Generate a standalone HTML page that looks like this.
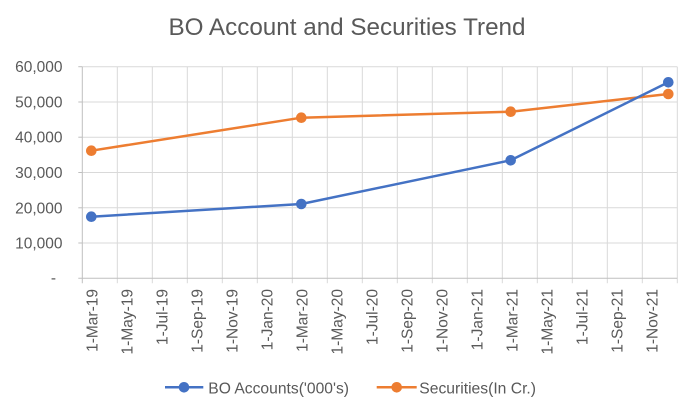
<!DOCTYPE html>
<html>
<head>
<meta charset="utf-8">
<style>
html,body{margin:0;padding:0;background:#fff;}
svg{display:block;}
text{font-family:"Liberation Sans",Arial,sans-serif;fill:#595959;}
</style>
</head>
<body>
<svg width="690" height="400" viewBox="0 0 690 400" xmlns="http://www.w3.org/2000/svg">
<rect x="0" y="0" width="690" height="400" fill="#fff"/>
<text x="347" y="35" font-size="24" text-anchor="middle" textLength="357" lengthAdjust="spacingAndGlyphs">BO Account and Securities Trend</text>

<!-- horizontal gridlines -->
<g stroke="#D9D9D9" stroke-width="1">
<line x1="82.3" y1="66.7" x2="677.3" y2="66.7"/>
<line x1="82.3" y1="102" x2="677.3" y2="102"/>
<line x1="82.3" y1="137.2" x2="677.3" y2="137.2"/>
<line x1="82.3" y1="172.5" x2="677.3" y2="172.5"/>
<line x1="82.3" y1="207.8" x2="677.3" y2="207.8"/>
<line x1="82.3" y1="243" x2="677.3" y2="243"/>
</g>
<!-- vertical gridlines -->
<g stroke="#D9D9D9" stroke-width="1">
<line x1="117.3" y1="66.7" x2="117.3" y2="283.3"/>
<line x1="152.3" y1="66.7" x2="152.3" y2="283.3"/>
<line x1="187.3" y1="66.7" x2="187.3" y2="283.3"/>
<line x1="222.3" y1="66.7" x2="222.3" y2="283.3"/>
<line x1="257.3" y1="66.7" x2="257.3" y2="283.3"/>
<line x1="292.3" y1="66.7" x2="292.3" y2="283.3"/>
<line x1="327.3" y1="66.7" x2="327.3" y2="283.3"/>
<line x1="362.3" y1="66.7" x2="362.3" y2="283.3"/>
<line x1="397.3" y1="66.7" x2="397.3" y2="283.3"/>
<line x1="432.3" y1="66.7" x2="432.3" y2="283.3"/>
<line x1="467.3" y1="66.7" x2="467.3" y2="283.3"/>
<line x1="502.3" y1="66.7" x2="502.3" y2="283.3"/>
<line x1="537.3" y1="66.7" x2="537.3" y2="283.3"/>
<line x1="572.3" y1="66.7" x2="572.3" y2="283.3"/>
<line x1="607.3" y1="66.7" x2="607.3" y2="283.3"/>
<line x1="642.3" y1="66.7" x2="642.3" y2="283.3"/>
<line x1="677.3" y1="66.7" x2="677.3" y2="283.3"/>
</g>
<!-- axes -->
<g stroke="#BFBFBF" stroke-width="1">
<line x1="82.3" y1="66.7" x2="82.3" y2="283.3"/>
<line x1="78.3" y1="278.3" x2="677.3" y2="278.3"/>
<line x1="78.3" y1="66.7" x2="82.3" y2="66.7"/>
<line x1="78.3" y1="102" x2="82.3" y2="102"/>
<line x1="78.3" y1="137.2" x2="82.3" y2="137.2"/>
<line x1="78.3" y1="172.5" x2="82.3" y2="172.5"/>
<line x1="78.3" y1="207.8" x2="82.3" y2="207.8"/>
<line x1="78.3" y1="243" x2="82.3" y2="243"/>
</g>

<!-- y labels -->
<g font-size="15.5" text-anchor="end">
<text x="62.5" y="72.2">60,000</text>
<text x="62.5" y="107.5">50,000</text>
<text x="62.5" y="142.7">40,000</text>
<text x="62.5" y="178">30,000</text>
<text x="62.5" y="213.3">20,000</text>
<text x="62.5" y="248.5">10,000</text>
<text x="56" y="283">-</text>
</g>

<!-- x labels -->
<g font-size="15.5" text-anchor="end">
<text transform="translate(97.6,289) rotate(-90)">1-Mar-19</text>
<text transform="translate(132.6,289) rotate(-90)">1-May-19</text>
<text transform="translate(167.6,289) rotate(-90)">1-Jul-19</text>
<text transform="translate(202.6,289) rotate(-90)">1-Sep-19</text>
<text transform="translate(237.6,289) rotate(-90)">1-Nov-19</text>
<text transform="translate(272.6,289) rotate(-90)">1-Jan-20</text>
<text transform="translate(307.6,289) rotate(-90)">1-Mar-20</text>
<text transform="translate(342.6,289) rotate(-90)">1-May-20</text>
<text transform="translate(377.6,289) rotate(-90)">1-Jul-20</text>
<text transform="translate(412.6,289) rotate(-90)">1-Sep-20</text>
<text transform="translate(447.6,289) rotate(-90)">1-Nov-20</text>
<text transform="translate(482.6,289) rotate(-90)">1-Jan-21</text>
<text transform="translate(517.6,289) rotate(-90)">1-Mar-21</text>
<text transform="translate(552.6,289) rotate(-90)">1-May-21</text>
<text transform="translate(587.6,289) rotate(-90)">1-Jul-21</text>
<text transform="translate(622.6,289) rotate(-90)">1-Sep-21</text>
<text transform="translate(657.6,289) rotate(-90)">1-Nov-21</text>
</g>

<!-- series -->
<polyline points="91.3,150.7 301.3,117.7 510.7,111.7 668.3,94" fill="none" stroke="#ED7D31" stroke-width="2.5" stroke-linejoin="round" stroke-linecap="round"/>
<polyline points="91.3,216.7 301.3,204 510.7,160.3 668.3,82.3" fill="none" stroke="#4472C4" stroke-width="2.5" stroke-linejoin="round" stroke-linecap="round"/>
<g fill="#ED7D31">
<circle cx="91.3" cy="150.7" r="5.3"/>
<circle cx="301.3" cy="117.7" r="5.3"/>
<circle cx="510.7" cy="111.7" r="5.3"/>
<circle cx="668.3" cy="94" r="5.3"/>
</g>
<g fill="#4472C4">
<circle cx="91.3" cy="216.7" r="5.3"/>
<circle cx="301.3" cy="204" r="5.3"/>
<circle cx="510.7" cy="160.3" r="5.3"/>
<circle cx="668.3" cy="82.3" r="5.3"/>
</g>

<!-- legend -->
<line x1="165" y1="387.3" x2="203.3" y2="387.3" stroke="#4472C4" stroke-width="2.5"/>
<circle cx="184" cy="387.3" r="5.3" fill="#4472C4"/>
<text x="208.3" y="393.3" font-size="15.5" textLength="140.7" lengthAdjust="spacingAndGlyphs">BO Accounts('000's)</text>
<line x1="376.7" y1="387.3" x2="416.7" y2="387.3" stroke="#ED7D31" stroke-width="2.5"/>
<circle cx="396.7" cy="387.3" r="5.3" fill="#ED7D31"/>
<text x="419.3" y="393.3" font-size="15.5" textLength="116.7" lengthAdjust="spacingAndGlyphs">Securities(In Cr.)</text>
</svg>
</body>
</html>
